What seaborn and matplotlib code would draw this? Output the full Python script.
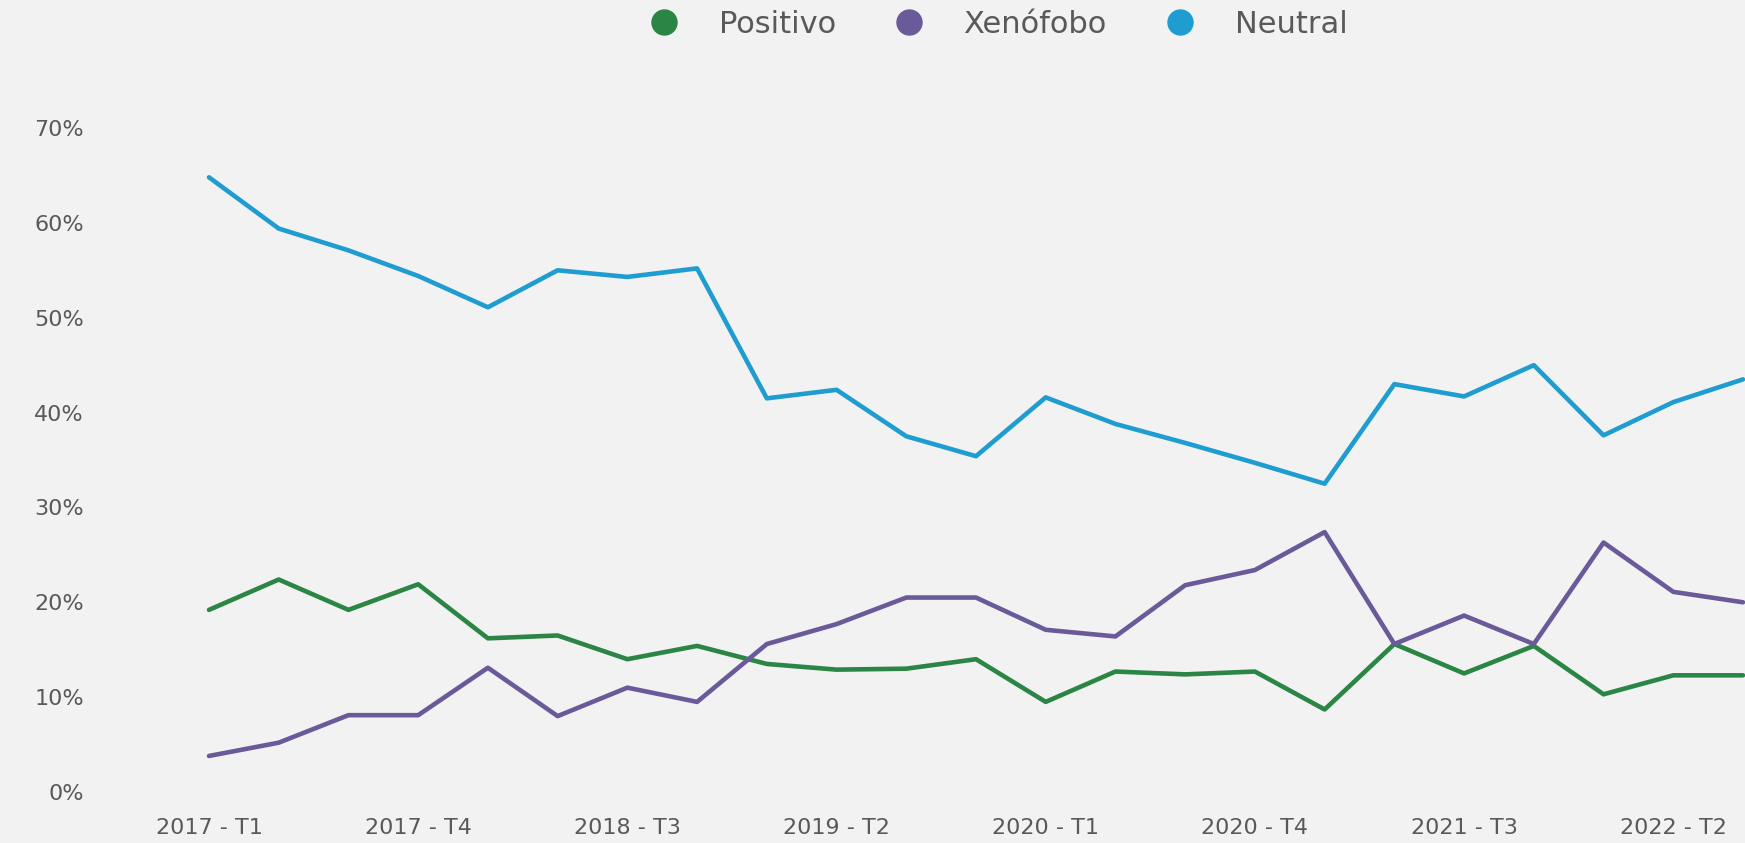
import pandas as pd
import numpy as np
import matplotlib.pyplot as plt
import seaborn as sns
from matplotlib.lines import Line2D

trimestres = [f'{a} - T{t}' for a in range(2017, 2023) for t in range(1, 5)][:23]

positivo = [19.2, 22.4, 19.2, 21.9, 16.2, 16.5, 14.0, 15.4, 13.5, 12.9, 13.0, 14.0,
            9.5, 12.7, 12.4, 12.7, 8.7, 15.6, 12.5, 15.4, 10.3, 12.3, 12.3]
xenofobo = [3.8, 5.2, 8.1, 8.1, 13.1, 8.0, 11.0, 9.5, 15.6, 17.7, 20.5, 20.5,
            17.1, 16.4, 21.8, 23.4, 27.4, 15.6, 18.6, 15.6, 26.3, 21.1, 20.0]
neutral = [64.8, 59.4, 57.1, 54.4, 51.1, 55.0, 54.3, 55.2, 41.5, 42.4, 37.5, 35.4,
           41.6, 38.8, 36.8, 34.7, 32.5, 43.0, 41.7, 45.0, 37.6, 41.1, 43.5]

series = ['Positivo', 'Xenófobo', 'Neutral']
colores = ['#2b8545', '#6a5a9a', '#1f9dd0']
yticks = [0, 10, 20, 30, 40, 50, 60, 70]

df = pd.DataFrame({'idx': list(range(len(trimestres))) * 3,
                   'valor': positivo + xenofobo + neutral,
                   'serie': [s for s in series for _ in trimestres]})

sns.set_style('white')
plt.rcParams['font.family'] = ['DejaVu Sans']
bg = '#f2f2f2'
gris = '#595959'

fig = plt.figure(figsize=(17.45, 8.43), dpi=100, facecolor=bg)
ax = fig.add_axes([209 / 1745, 51 / 843, (1743 - 209) / 1745, (792 - 128) / 843])
ax.set_facecolor(bg)

sns.lineplot(data=df, x='idx', y='valor', hue='serie', hue_order=series,
             palette=colores, linewidth=3.3, legend=False, ax=ax, clip_on=False)

ax.set_xlim(0, len(trimestres) - 1)
ax.set_ylim(0, 70)
ax.set_yticks(yticks)
ax.set_yticklabels([f'{v}%' for v in yticks])
ax.set_xticks(range(0, len(trimestres), 3))
ax.set_xticklabels(trimestres[::3])
ax.tick_params(length=0, labelsize=16, labelcolor=gris)
ax.tick_params(axis='y', pad=90)
ax.tick_params(axis='x', pad=19)
ax.set_xlabel(None)
ax.set_ylabel(None)
sns.despine(ax=ax, left=True, bottom=True)

handles = [Line2D([], [], marker='o', linestyle='', markersize=18, color=c) for c in colores]
fig.legend(handles, series, loc='center', bbox_to_anchor=(0.572, 0.971), ncol=3,
           frameon=False, fontsize=22, labelcolor=gris, handlelength=1.0,
           handletextpad=1.28, columnspacing=1.9)

fig.savefig('out.png', dpi=100, facecolor=bg)
